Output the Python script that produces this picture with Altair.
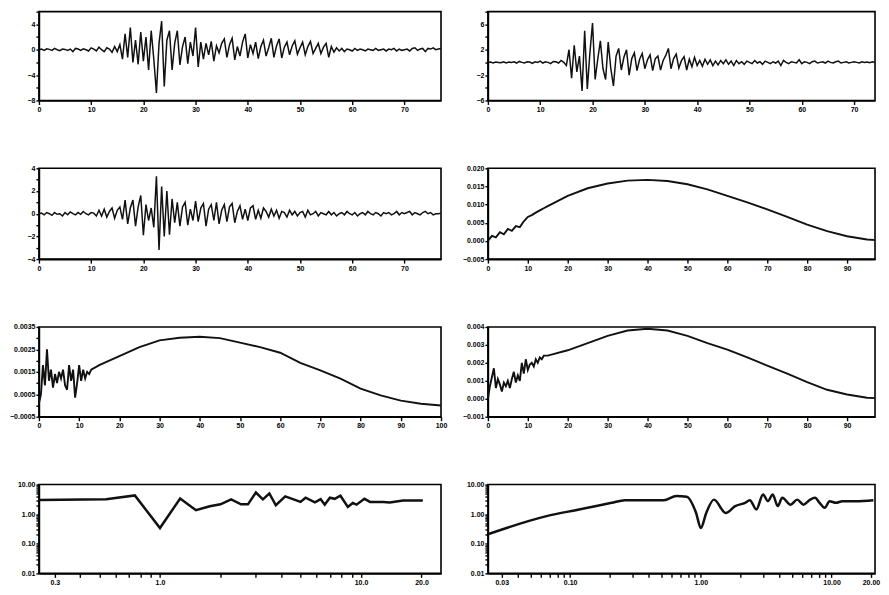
import json
import altair as alt
import pandas as pd

# ---------------- data ----------------
# Panels 1-3: accelerograms sampled every 0.5 s from 0 to 77 s
acc1 = [0.0, 0.1, -0.1, 0.15, 0.05, -0.1, 0.2, 0.0, -0.15, 0.1, 0.05, -0.1, 0.1, -0.3, 0.2, 0.1,
        -0.1, 0.15, 0.0, -0.2, 0.3, 0.1, -0.2, 0.4, 0.0, -0.3, 0.3, 0.1, -0.4, 0.5, -0.3,
        0.8, -1.5, 2.5, -1.2, 3.5, -2.0, 1.5, -2.3, 2.8, -1.8,
        2.0, -3.2, 3.0, -1.5, -6.8, 1.0, 4.5, -5.8, 1.5, 3.0,
        -3.2, 1.0, 3.0, -2.4, 0.5, 2.0, -2.2, 1.2, -1.0, 3.5,
        -2.7, 1.2, -1.5, 1.0, -0.8, 1.3, -1.8, 0.6, -0.5, 1.0,
        1.7, -1.2, 0.8, 1.8, -1.6, 0.5, -1.0, 1.2, 2.5, -1.3,
        0.8, -0.6, 1.2, -1.4, 0.5, 1.5, -1.0, 0.3, 1.8, -1.2,
        0.6, 1.7, -1.3, 0.4, 1.2, -0.8, 0.6, 1.4, -0.7, 0.3,
        1.2, -0.8, 0.5, 1.3, -0.6, 0.2, 1.0, -0.6, 0.4, 1.0,
        -1.2, 0.5, -0.4, 0.3, -0.2, 0.2, -0.3, 0.1, 0.0, -0.2,
        0.2, -0.1, 0.1, 0.0, -0.2, 0.1, 0.0, -0.1, 0.2, -0.1,
        0.0, 0.1, -0.2, 0.1, 0.0, 0.2, -0.2, 0.1, -0.1, 0.0,
        0.1, -0.2, 0.2, 0.3, -0.1, 0.1, 0.2, -0.3, 0.2, 0.1, 0.3, 0.0, 0.1, 0.2]

acc2 = [0.0, 0.05, -0.1, 0.05, 0.0, -0.05, 0.1, -0.1, 0.05, 0.0, 0.1, -0.1, 0.15, 0.0, -0.1, 0.1,
        0.05, -0.15, 0.1, 0.0, 0.2, -0.1, 0.1, 0.0, -0.2, 0.15, 0.1, -0.1, 0.3, 0.0, -0.5,
        2.0, -2.5, 2.7, -1.5, 1.0, -4.5, 5.0, -4.2, 1.5, 6.2,
        -2.7, 0.5, 3.4, -1.0, -2.7, 3.2, -1.0, -3.7, 1.0, 2.2,
        -1.2, 0.8, 2.0, -2.0, 0.6, 1.5, -1.3, 0.5, 1.4, -1.0,
        0.4, 1.2, -1.3, 0.6, 1.0, -1.2, 0.3, 1.1, 2.2, -1.0,
        0.6, 1.3, -0.9, 0.3, 0.9, -1.2, 0.5, -0.7, 0.8, -0.5,
        0.3, -0.6, 0.5, -0.3, 0.4, -0.5, 0.2, -0.4, 0.3, -0.2,
        0.4, -0.3, 0.2, -0.5, 0.3, -0.2, 0.1, -0.3, 0.2, 0.0,
        -0.2, 0.3, -0.1, 0.1, -0.3, 0.2, 0.0, -0.2, 0.1, -0.1,
        0.2, -0.5, 0.3, 0.0, -0.2, 0.1, 0.0, -0.1, 0.4, -0.2,
        0.1, 0.0, -0.2, 0.1, 0.2, -0.1, 0.0, 0.1, -0.1, 0.2,
        0.0, -0.1, 0.1, 0.2, -0.1, 0.0, 0.1, -0.1, 0.0, 0.1,
        0.0, -0.1, 0.1, 0.0, 0.05, -0.05, 0.1, 0.0, 0.1, 0.2, 0.1, 0.2, 0.3, 0.2]

acc3 = [0.0, 0.05, -0.1, 0.1, 0.0, -0.15, 0.1, -0.05, 0.0, -0.2, 0.1, -0.1, 0.15, 0.0, -0.1, 0.1,
        -0.05, 0.2, 0.0, -0.1, 0.1, 0.05, -0.2, 0.3, -0.2, 0.4, -0.3, 0.2, 0.5, -0.4, 0.3,
        0.6, -0.5, 1.2, -0.9, 0.5, 1.2, -1.1, 0.6, 1.6, -1.9,
        0.8, -0.6, 0.5, -1.2, 3.3, -3.2, 2.4, -2.0, 2.0, -1.85,
        1.3, -0.8, 1.0, -1.1, 0.6, 1.0, -1.0, 0.4, -0.6, 1.1,
        -0.7, 0.5, 0.9, -1.1, 0.4, 0.8, -0.6, 1.0, -0.9, 0.3,
        0.8, -0.7, 0.6, 0.9, -0.8, 0.2, 0.7, -0.5, 0.4, -0.6,
        0.5, 0.7, -0.5, 0.3, -0.4, 0.5, 0.2, -0.3, 0.4, -0.2,
        0.3, -0.4, 0.2, 0.1, -0.3, 0.3, -0.1, 0.2, -0.2, 0.1,
        0.2, -0.3, 0.3, -0.1, 0.0, 0.2, -0.2, 0.1, 0.0, -0.1,
        0.2, -0.1, 0.1, -0.2, 0.0, 0.1, -0.1, 0.2, 0.0, -0.1,
        0.1, -0.2, 0.0, 0.1, -0.1, 0.2, 0.0, -0.1, 0.1, 0.0,
        -0.2, 0.1, 0.0, 0.1, -0.1, 0.0, 0.2, -0.1, 0.1, 0.0,
        0.1, 0.2, -0.1, 0.1, 0.0, -0.1, 0.1, 0.2, 0.0, 0.1, -0.1, 0.0, 0.0, 0.05]

# Panel 4: smooth curve
p4_x = [0, 1, 2, 3, 4, 5, 6, 7, 8, 9, 10, 11, 12, 13, 14,
        15, 20, 25, 30, 35, 40, 45, 50, 55, 60, 65, 70, 75, 80, 85, 90, 95, 100]
p4_y = [0.0000, 0.0014, 0.0010, 0.0024, 0.0018, 0.0033, 0.0028, 0.0041, 0.0038, 0.0054, 0.0066,
        0.0071, 0.0078, 0.0084, 0.0090,
        0.0096, 0.0124, 0.0145, 0.0158, 0.0166, 0.0168, 0.0165, 0.0156, 0.0142, 0.0124, 0.0106,
        0.0087, 0.0066, 0.0045, 0.0027, 0.0013, 0.0004, 0.0000]

# Panel 5
p5_x = [0, 0.5, 1, 1.5, 2, 2.5, 3, 3.5, 4, 4.5, 5, 5.5, 6, 6.5, 7, 7.5, 8, 8.5, 9, 9.5, 10,
        10.5, 11, 11.5, 12, 12.5, 13,
        15, 20, 25, 30, 35, 40, 45, 50, 55, 60, 65, 70, 75, 80, 85, 90, 95, 100]
p5_y = [0.0001, 0.0005, 0.0018, 0.0009, 0.0025, 0.0011, 0.0016, 0.0008, 0.0014, 0.0010, 0.0015,
        0.0012, 0.0016, 0.0009, 0.0007, 0.0018, 0.0011, 0.0016, 0.00035, 0.0010, 0.0018,
        0.0011, 0.0016, 0.0012, 0.0015, 0.0014, 0.0016,
        0.0018, 0.0022, 0.0026, 0.0029, 0.00302, 0.00306, 0.0030, 0.0028, 0.0026, 0.00235,
        0.0019, 0.00157, 0.0012, 0.00075, 0.00045, 0.00022, 0.00008, 0.0000]

# Panel 6
p6_x = [0, 0.5, 1, 1.5, 2, 2.5, 3, 3.5, 4, 4.5, 5, 5.5, 6, 6.5, 7, 7.5, 8, 8.5, 9, 9.5, 10,
        10.5, 11, 11.5, 12, 12.5, 13, 13.5, 14,
        15, 20, 25, 30, 35, 40, 45, 50, 55, 60, 65, 70, 75, 80, 85, 90, 95, 100]
p6_y = [0.0000, 0.0007, 0.0012, 0.0017, 0.0006, 0.0011, 0.0008, 0.0004, 0.0009, 0.0007, 0.0010,
        0.0006, 0.0011, 0.0015, 0.0009, 0.0013, 0.0010, 0.0020, 0.0014, 0.0022, 0.0016,
        0.0019, 0.0020, 0.0018, 0.0022, 0.0020, 0.0023, 0.0022, 0.0024,
        0.0024, 0.0027, 0.0031, 0.0035, 0.0038, 0.0039, 0.0038, 0.0035, 0.0031, 0.00274,
        0.0023, 0.00185, 0.0014, 0.00093, 0.0005, 0.00024, 0.00006, 0.0000]

# Panel 7 (log-log)
p7_x = [0.25, 0.54, 0.75, 1.0, 1.26, 1.51, 1.77, 2.0, 2.26, 2.53, 2.74, 3.0, 3.25, 3.5, 3.77,
        4.2, 5.0, 5.3, 5.9, 6.3, 6.6, 7.0, 7.4, 7.9, 8.6, 9.1, 9.5, 10.4, 11.1, 12.9, 13.9,
        16.2, 20.3]
p7_y = [3.0, 3.2, 4.3, 0.34, 3.4, 1.36, 1.85, 2.15, 3.16, 2.15, 2.15, 5.4, 3.16, 5.0, 2.0,
        4.0, 2.6, 3.6, 2.5, 3.2, 2.1, 3.6, 3.3, 4.2, 1.75, 2.4, 2.1, 3.3, 2.6, 2.6, 2.5,
        2.9, 2.9]

# Panel 8 (log-log)
p8_x = [0.0235, 0.066, 0.117, 0.208, 0.262, 0.52, 0.65, 0.78, 0.92, 1.0, 1.1, 1.26, 1.55, 1.83,
        2.18, 2.37, 2.66, 2.99, 3.26, 3.55, 3.87, 4.2, 4.86, 5.46, 6.1, 6.86, 7.47, 8.1, 8.87,
        9.66, 10.8, 12.1, 15.3, 20.9]
p8_y = [0.21, 0.86, 1.44, 2.42, 2.98, 2.98, 4.1, 3.9, 1.1, 0.34, 1.1, 3.1, 1.1, 1.87,
        2.42, 2.98, 1.44, 4.65, 2.75, 4.65, 1.87, 3.58, 2.1, 3.1, 2.1, 3.1, 3.58, 2.42, 1.64,
        2.75, 2.42, 2.75, 2.75, 2.98]

# tick values and labelled ticks
t_ticks = [0, 10, 20, 30, 40, 50, 60, 70]
p1_yticks = [-8, -6, -4, -2, 0, 2, 4, 6]
p1_ylabels = [4, 0, -4, -8]
p2_yticks = [-6, -4, -2, 0, 2, 4, 6, 8]
p2_ylabels = [6, 2, -2, -6]
p3_yticks = [-4, -3, -2, -1, 0, 1, 2, 3, 4]
p3_ylabels = [4, 2, 0, -2, -4]
h_ticks = [0, 10, 20, 30, 40, 50, 60, 70, 80, 90, 100]
h_ticks_r = [0, 10, 20, 30, 40, 50, 60, 70, 80, 90]
p4_yticks = [-0.005, 0.0, 0.005, 0.01, 0.015, 0.02]
p5_yticks = [-0.0005, 0.0, 0.0005, 0.001, 0.0015, 0.002, 0.0025, 0.003, 0.0035]
p5_ylabels = [-0.0005, 0.0005, 0.0015, 0.0025, 0.0035]
p6_yticks = [-0.001, 0.0, 0.001, 0.002, 0.003, 0.004]
log_yticks = [0.01, 0.02, 0.03, 0.04, 0.05, 0.06, 0.07, 0.08, 0.09,
              0.1, 0.2, 0.3, 0.4, 0.5, 0.6, 0.7, 0.8, 0.9,
              1, 2, 3, 4, 5, 6, 7, 8, 9, 10]
log_ylabels = [0.01, 0.1, 1, 10]
p7_xticks = [0.3, 0.4, 0.5, 0.6, 0.7, 0.8, 0.9, 1, 2, 3, 4, 5, 6, 7, 8, 9, 10, 20]
p7_xlabels = [0.3, 1, 10, 20]
p8_xticks = [0.03, 0.04, 0.05, 0.06, 0.07, 0.08, 0.09, 0.1, 0.2, 0.3, 0.4, 0.5, 0.6, 0.7,
             0.8, 0.9, 1, 2, 3, 4, 5, 6, 7, 8, 9, 10, 20]
p8_xlabels = [0.03, 0.1, 1, 10, 20]

t_wave = [i * 0.5 for i in range(len(acc1))]


def axis(values, labels, fmt, orient):
    expr = "indexof(" + json.dumps(labels) + ", datum.value) >= 0 ? datum.label : ''"
    return alt.Axis(values=values, format=fmt, labelExpr=expr, title=None, grid=False,
                    labelOverlap=False, labelFlush=False,
                    tickSize=4 if orient == "x" else 3)


def panel(x, y, xdom, ydom, xt, xl, xf, yt, yl, yf, w, h,
          xlog=False, ylog=False, sw=1.3, interp="linear"):
    df = pd.DataFrame({"x": x, "y": y})
    xs = alt.Scale(domain=xdom, nice=False, zero=False, type="log" if xlog else "linear")
    ys = alt.Scale(domain=ydom, nice=False, zero=False, type="log" if ylog else "linear")
    return (alt.Chart(df)
            .mark_line(color="#111111", strokeWidth=sw, interpolate=interp, clip=True)
            .encode(x=alt.X("x:Q", scale=xs, axis=axis(xt, xl, xf, "x")),
                    y=alt.Y("y:Q", scale=ys, axis=axis(yt, yl, yf, "y")))
            .properties(width=w, height=h))


WL = 403
WR = 388
p1 = panel(t_wave, acc1, [0, 77], [-8, 6], t_ticks, t_ticks, "d",
           p1_yticks, p1_ylabels, "d", WL, 89, sw=1.5)
p2 = panel(t_wave[:len(acc2)], acc2, [0, 74], [-6, 8], t_ticks, t_ticks, "d",
           p2_yticks, p2_ylabels, "d", WR, 89, sw=1.5)
p3 = panel(t_wave[:len(acc3)], acc3, [0, 77], [-4, 4], t_ticks, t_ticks, "d",
           p3_yticks, p3_ylabels, "d", WL, 91, sw=1.5)
p4 = panel(p4_x, p4_y, [0, 97], [-0.005, 0.02], h_ticks_r, h_ticks_r, "d",
           p4_yticks, p4_yticks, ".3f", WR, 91, sw=1.9)
p5 = panel(p5_x, p5_y, [0, 100], [-0.0005, 0.0035], h_ticks, h_ticks, "d",
           p5_yticks, p5_ylabels, ".4f", WL, 90, sw=1.9)
p6 = panel(p6_x, p6_y, [0, 97], [-0.001, 0.004], h_ticks_r, h_ticks_r, "d",
           p6_yticks, p6_yticks, ".3f", WR, 90, sw=1.9)
p7 = panel(p7_x, p7_y, [0.25, 25], [0.01, 10], p7_xticks, p7_xlabels, ".1f",
           log_yticks, log_ylabels, ".2f", WL, 89, xlog=True, ylog=True, sw=2.5)
p8 = panel(p8_x, p8_y, [0.0235, 21.5], [0.01, 10], p8_xticks, p8_xlabels, ".2f",
           log_yticks, log_ylabels, ".2f", WR, 89, xlog=True, ylog=True, sw=2.5,
           interp="monotone")

chart = (alt.concat(p1, p2, p3, p4, p5, p6, p7, p8, columns=2,
                    spacing={"row": 68, "column": 47}, bounds="flush")
         .properties(padding={"left": 0, "top": -2, "right": 0, "bottom": 0},
                     background="white")
         .configure_view(stroke="black", strokeWidth=1.6)
         .configure_axis(domainColor="black", domainWidth=1.6, tickColor="black",
                         tickWidth=1.4, labelColor="black", labelFont="Liberation Sans",
                         labelFontSize=7, labelFontWeight="bold", labelPadding=1))

chart.save("out.html", embed_options={"renderer": "svg", "actions": False})
